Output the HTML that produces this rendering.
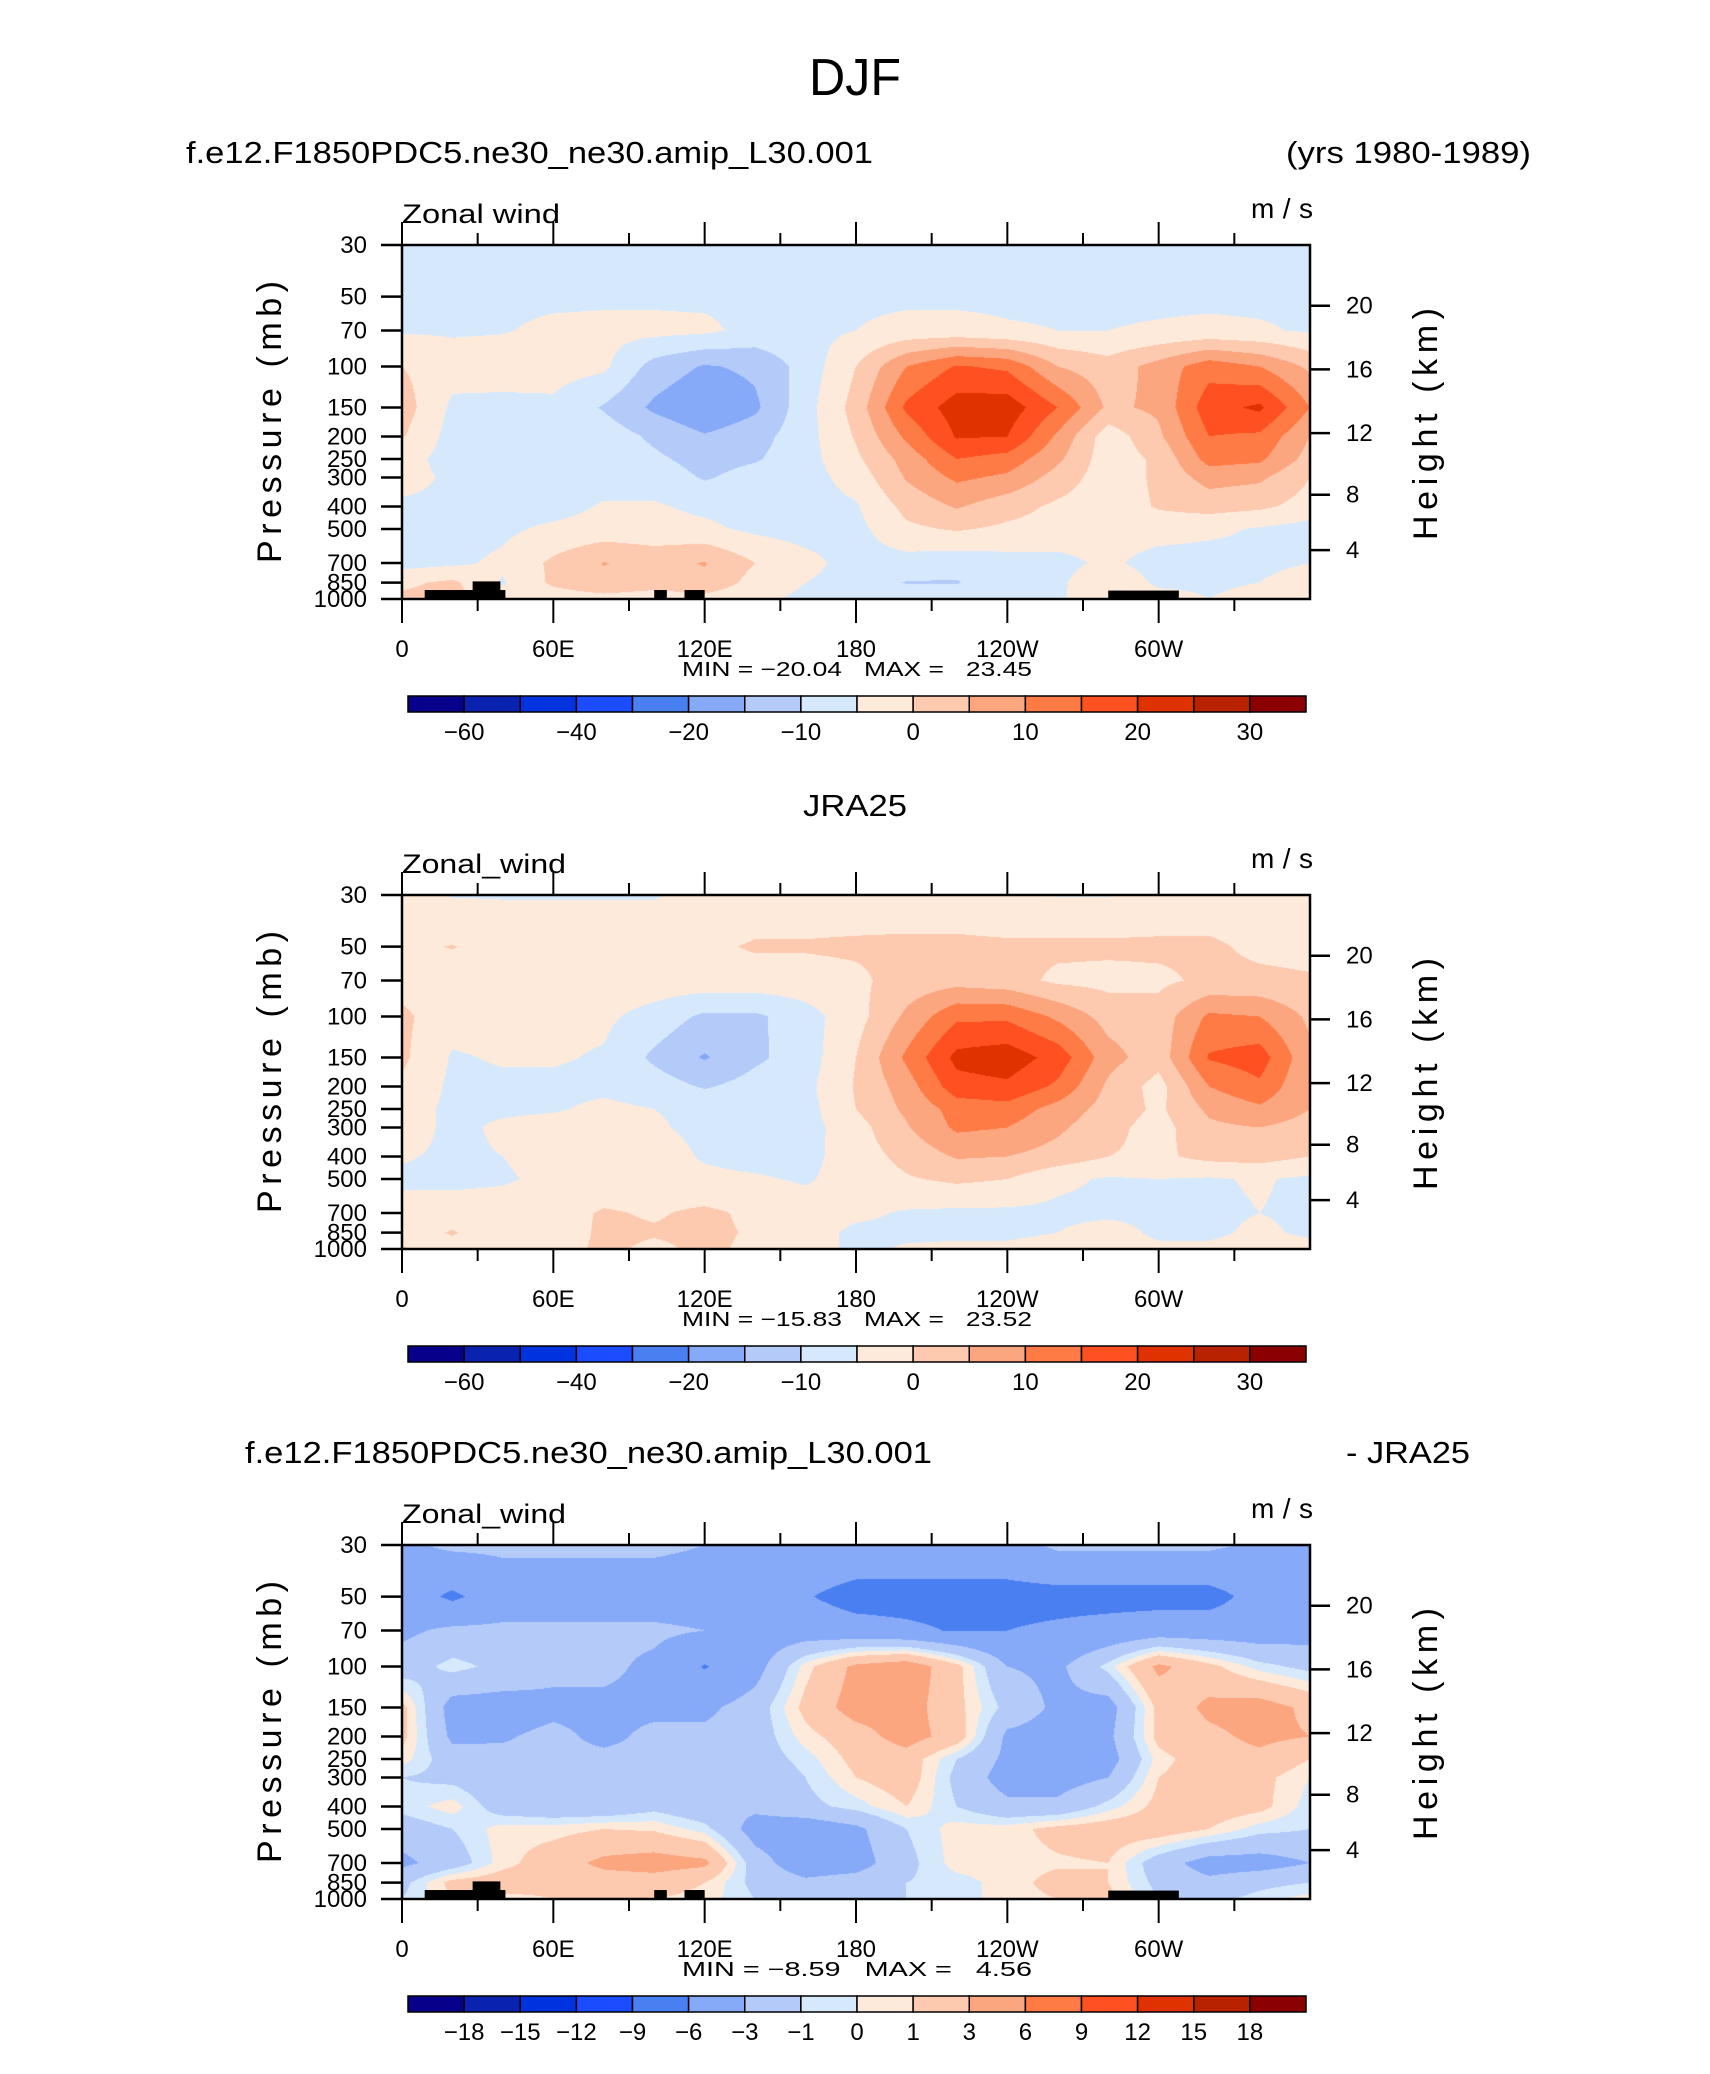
<!DOCTYPE html>
<html><head><meta charset="utf-8">
<style>
html,body{margin:0;padding:0;background:#fff;}
#root{position:relative;width:1710px;height:2074px;overflow:hidden;background:#fff;}
canvas{position:absolute;}
svg{position:absolute;left:0;top:0;}
text{font-family:"Liberation Sans",sans-serif;fill:#000;}
</style></head>
<body>
<div id="root">
<canvas id="c0" width="908" height="354" style="left:402px;top:245px"></canvas>
<canvas id="c1" width="908" height="354" style="left:402px;top:895px"></canvas>
<canvas id="c2" width="908" height="354" style="left:402px;top:1545px"></canvas>
<svg id="ov" width="1710" height="2074">
<text x="855" y="95" font-size="52" text-anchor="middle" textLength="92" lengthAdjust="spacingAndGlyphs">DJF</text>
</svg>
</div>
<script>
// ---------- data ----------
const lons = [0,20,40,60,80,100,120,140,160,180,200,220,240,260,280,300,320,340,360];
const plev = [30,50,70,100,150,200,250,300,400,500,700,850,1000];
const levelsWind = [-60,-50,-40,-30,-20,-15,-10,-5,0,5,10,15,20,25,30];
const levelsDiff = [-18,-15,-12,-9,-6,-3,-1,0,1,3,6,9,12,15,18];
const levelLabelsWind = ["-60","","-40","","-20","","-10","","0","","10","","20","","30"];
const levelLabelsDiff = ["-18","-15","-12","-9","-6","-3","-1","0","1","3","6","9","12","15","18"];
const colors = ["#07008a","#0a22b0","#0033e0","#1b4dff","#4a7ff2","#86aaf8","#b4cbfa","#d6e9fc","#feeadb","#fdcab0","#fca680","#fe7b45","#fe5020","#e03200","#b82200","#8b0000"];
const xTickLons = [0,60,120,180,240,300];
const xTickLabels = ["0","60E","120E","180","120W","60W"];
const pTicks = [30,50,70,100,150,200,250,300,400,500,700,850,1000];
const kmTicks = [4,8,12,16,20];

const u1 = [
[-7,-7,-7,-7,-7,-7,-7,-7,-7,-7,-7,-7,-7,-7,-7,-7,-7,-7,-7],
[-6,-6,-6,-6,-6,-6,-6,-6,-6,-6,-6,-6,-6,-6,-6,-6,-6,-6,-6],
[-5.5,-5.5,-5.3,-4,-3.5,-3.5,-4,-6.5,-6.5,-5,-3.5,-3.5,-4.5,-5,-5,-4.5,-4,-4.5,-5.5],
[0,-3,-2.5,-3,-4,-12,-15.5,-14,-8,0,10,15.5,14,5,2,7,13,10,4],
[2.5,-6,-6.5,-6,-10.5,-16,-19.5,-16,-7,2,16,22.5,23,15,4,6,18,21,10],
[0.5,-7,-7,-7,-7,-11,-14.5,-12,-7,0.5,11,20.5,20,9,-3,4,15,14,5],
[-3,-7,-7,-7,-7,-9,-12,-10.5,-7,-1,7,15,13,6,-3,1,12,11,3],
[-3,-6,-7,-7,-7,-7,-10.5,-8,-7,-3,5.5,11,9,3,-3,1,7,6,0],
[-6,-6,-7,-7,-4.5,-4.5,-6,-7,-7,-5.5,1.5,5.5,2,-1,-3,0.5,2,1,-2],
[-7,-7,-6,-4,-3,-3.5,-4,-6,-7,-6.5,-1,0.5,-1,-2,-3,-3,-4,-5.5,-7],
[-7,-6,-4,1,5.2,3.5,5.3,0,-3.5,-7,-7,-8,-7,-6.5,-4,-7,-7,-6,-5],
[-1,1,-5.5,1,4,2.5,4,-2,-5,-7,-10.3,-10.3,-7,-6,-1,-6,-6,-5,-3],
[1,2,-3,-3,-2,-3,-2,-4,-6,-7,-7,-7,-7,-6,0,-3,-5,-3,-2]
];
const u2 = [
[-3,-5.3,-5.3,-5.3,-5.3,-5.3,-4,-3,-3,-3,-3,-3,-4,-5.2,-5.2,-4,-3,-3,-3],
[-1,0.2,-2,-2,-2,-2,-1,0.5,0.5,0.8,1,1,0.8,1,1,1,0.8,-1,-1.5],
[-2,-2,-2,-2,-2,-2,-2,-2,-2,-1,2,3,2,-1,-1.5,-1,1,1,0.5],
[1,-3,-3,-3.5,-4,-7,-11,-11,-7,-2,6,14,14,9,3,2,11,10,4],
[1,-5.5,-4.5,-4.5,-5.5,-11,-15.5,-11,-7.5,0,11,21.5,23,18,7,2,15.5,17.5,6],
[-1,-6,-6,-6,-6,-7.5,-10.5,-8,-6.5,0.5,7.5,18,19,14,4,-2,10,14,5],
[-3,-6,-6,-5.5,-4,-5,-6,-6.5,-7,0,6,12,13,8,3,-1,6,9,5],
[-2,-6.5,-4,-3,-3,-4.5,-6,-6.5,-7,-2,4.5,11,10,6,1.5,-2,4,5,3],
[-4.5,-6,-5,-3.5,-3,-3,-5.5,-6.5,-6.5,-2.5,1.5,5.5,5,3,0,-1,1.5,2,0],
[-6,-6,-5.5,-4,-3,-3,-4,-4.5,-5.5,-3,-0.5,1,0,-4,-5.5,-5,-5.5,-4.5,-6],
[-3,-3,-3,-2,0.5,-0.5,1,-1,-3,-4,-5.5,-6,-6,-6,-6,-6,-6,-5,-6],
[-3,0.5,-4,-3,1,0.5,1,-0.5,-3,-6,-6,-6,-6,-5,-3,-6,-6,-4,-6],
[0.5,-2,-4,-2,1,-1,1,-1,-3,-6,-4.5,-4,-4,-3,-2,-4,-4,-3,-3]
];
const u3 = [
[-3.5,-2.5,-2.5,-2.5,-2.5,-2.5,-3,-4,-4,-4,-4,-4,-4,-2.5,-2.5,-2.5,-2.5,-3.5,-4],
[-4.5,-6.5,-4.5,-4.5,-4.5,-4.5,-4.5,-4.5,-5.8,-7,-7,-7,-7,-7,-7,-7,-7,-5,-4.5],
[-3.5,-2.5,-2.5,-2.5,-2.5,-2.5,-3,-4.5,-4.5,-5,-5.5,-6.2,-6,-5.5,-5,-4.5,-4.5,-4.5,-4],
[-2,-0.5,-1.5,-2.5,-2.5,-3.5,-6.2,-4,0.5,3.5,4.5,1.5,-3,-3.5,-0.5,3.5,1.5,-0.5,-1.5],
[1.5,-4,-4,-3.5,-3.5,-3.5,-3.5,-2,1.5,4,4,1.5,-1.5,-3.5,-4,1.5,3.5,4,2.5],
[1.5,-3.5,-3.2,-2.5,-3.5,-2.5,-2.5,-2,0.5,2,4,2,-3.5,-4,-3.5,1.5,2.5,3.5,3],
[0.5,-2,-2.5,-2.5,-2.5,-2.5,-2.5,-2,-0.5,1.5,2,-1,-3.5,-4.5,-4,0.5,2,2.5,1],
[-1,-1.5,-2.5,-2.5,-2.5,-2.5,-2.5,-2.5,-1,1,2,-1.5,-4,-4,-3,1,2,1.5,0],
[-0.5,0.5,-2,-2.5,-2.5,-1.5,-2.5,-2.5,-1.5,-0.5,1,-1,-2.5,-2.5,-0.5,1.5,2,1.5,-0.5],
[-2,-1,0.5,0.5,1,0.8,-0.5,-4,-4.5,-3.5,-1,0.5,0.5,1.5,2,2,1,-0.5,-1],
[-3.5,-2,0.5,2,3.5,4,3.5,-2,-4.5,-4,-1.5,0.5,0.5,0.8,1,-2,-4,-4,-3],
[-1.5,1.5,2,1.5,2,2,1,-1.5,-2.5,-2,-1,-0.5,0.5,1.5,1,-1.5,-2.5,-1.5,-1],
[-1,1,0.5,1,1.5,1,0.5,-1,-1.5,-1.5,-1,-0.5,0.5,1,1.5,-1,-1.5,-0.5,0.5]
];
const terrainStart = [9,28,100,112,280];
const terrainEnd = [41,39,105,120,308];
const terrainTop = [915,840,915,915,920];

// ---------- layout ----------
const L = 402, W = 908, H = 354;
const tops = [245, 895, 1545];
const lnTop = Math.log(30), lnBot = Math.log(1000);
function xOf(lon){ return L + lon/360*W; }
function yOfP(top,p){ return top + (Math.log(p)-lnTop)/(lnBot-lnTop)*H; }
function pOfKm(z){ const m=z*1000; return m<=11000 ? 1013.25*Math.pow(1-2.25577e-5*m,5.25588) : 226.32*Math.exp(-(m-11000)/6341.6); }

function drawField(cid, data, levels){
  const cv = document.getElementById(cid), ctx = cv.getContext('2d');
  const img = ctx.createImageData(W,H);
  const lnp = plev.map(Math.log);
  const rgb = colors.map(c=>[parseInt(c.substr(1,2),16),parseInt(c.substr(3,2),16),parseInt(c.substr(5,2),16)]);
  const n = lons.length-1;
  for(let py=0; py<H; py++){
    const lp = lnTop + (py+0.5)/H*(lnBot-lnTop);
    let k=0; while(k<plev.length-2 && lp>lnp[k+1]) k++;
    const t = Math.min(1,Math.max(0,(lp-lnp[k])/(lnp[k+1]-lnp[k])));
    for(let px=0; px<W; px++){
      const lonv = (px+0.5)/W*360;
      let i=0; while(i<n-1 && lonv>lons[i+1]) i++;
      const s = (lonv-lons[i])/(lons[i+1]-lons[i]);
      const v = (1-t)*((1-s)*data[k][i]+s*data[k][i+1]) + t*((1-s)*data[k+1][i]+s*data[k+1][i+1]);
      let ci=0; while(ci<levels.length && v>=levels[ci]) ci++;
      const o=(py*W+px)*4, c=rgb[ci];
      img.data[o]=c[0]; img.data[o+1]=c[1]; img.data[o+2]=c[2]; img.data[o+3]=255;
    }
  }
  ctx.putImageData(img,0,0);
}
drawField('c0',u1,levelsWind);
drawField('c1',u2,levelsWind);
drawField('c2',u3,levelsDiff);

// ---------- overlay ----------
const ov = document.getElementById('ov');
const NS = 'http://www.w3.org/2000/svg';
function mk(tag, attrs, txt){
  const e = document.createElementNS(NS, tag);
  for(const k in attrs) e.setAttribute(k, attrs[k]);
  if(txt!==undefined) e.textContent = txt;
  ov.appendChild(e); return e;
}
function line(x1,y1,x2,y2,w){ return mk('line',{x1:x1,y1:y1,x2:x2,y2:y2,stroke:'#000','stroke-width':w||2}); }

const panelMin = ["\u221220.04","\u221215.83","\u22128.59"];
const panelMax = ["23.45","23.52","4.56"];
const panelUnitsName = ["Zonal wind","Zonal_wind","Zonal_wind"];

tops.forEach((T,pi)=>{
  if(pi!==1){
    terrainStart.forEach((a,j)=>{
      const r = mk('rect',{x:xOf(a),y:yOfP(T,terrainTop[j]),width:xOf(terrainEnd[j])-xOf(a),height:T+H-yOfP(T,terrainTop[j]),fill:'#000'});
      
      
    });
  }
  const fr = mk('rect',{x:L,y:T,width:W,height:H,fill:'none',stroke:'#000','stroke-width':2.5});
  
  
  for(let lon=0; lon<360; lon+=30){
    const major = lon%60===0, x=xOf(lon);
    line(x,T+H,x,T+H+(major?24:12),2);
    line(x,T,x,T-(major?23:12),2);
  }
  xTickLons.forEach((lon,j)=>{
    const t = mk('text',{x:xOf(lon),y:T+H+58,'font-size':24,'text-anchor':'middle'},xTickLabels[j]);
    
    
  });
  pTicks.forEach(p=>{
    const y=yOfP(T,p);
    line(L-21,y,L,y,2.5);
    const t = mk('text',{x:367,y:y+8,'font-size':24,'text-anchor':'end'},String(p));
    
    
  });
  kmTicks.forEach(z=>{
    const y=yOfP(T,pOfKm(z));
    line(L+W,y,L+W+20,y,2.5);
    const t = mk('text',{x:1346,y:y+8,'font-size':24},String(z));
    
    
  });
  const ya = mk('text',{x:0,y:0,'font-size':34,'text-anchor':'middle',transform:'translate(281,'+(T+177)+') rotate(-90)',textLength:282,lengthAdjust:'spacing'},'Pressure (mb)');
  
  
  const yb = mk('text',{x:0,y:0,'font-size':34,'text-anchor':'middle',transform:'translate(1437,'+(T+179)+') rotate(-90)',textLength:232,lengthAdjust:'spacing'},'Height (km)');
  
  
  const lt = mk('text',{x:402,y:T-22,'font-size':27,textLength:(pi===0?158:164),lengthAdjust:'spacingAndGlyphs'},panelUnitsName[pi]);
  
  
  const ut = mk('text',{x:1313,y:T-27,'font-size':28,'text-anchor':'end',textLength:62,lengthAdjust:'spacing'},'m/s');
  
  
  const mm = mk('text',{x:682,y:T+H+77,'font-size':20,textLength:350,lengthAdjust:'spacingAndGlyphs',style:'white-space:pre'},'MIN = '+panelMin[pi]+'   MAX =   '+panelMax[pi]);
  
  
  const cbx=408, cbw=898, cby=T+451, cbh=16, bw=cbw/16;
  colors.forEach((c,j)=>{
    const r = mk('rect',{x:cbx+j*bw,y:cby,width:bw,height:cbh,fill:c,stroke:'#000','stroke-width':1.5});
    
    
  });
  const labs = pi===2 ? levelLabelsDiff : levelLabelsWind;
  labs.forEach((s,j)=>{
    if(!s) return;
    const t = mk('text',{x:cbx+(j+1)*bw,y:cby+44,'font-size':24,'text-anchor':'middle'},s.replace('-','\u2212'));
    
    
  });
});

const s1 = mk('text',{x:186,y:163,'font-size':31,textLength:687,lengthAdjust:'spacingAndGlyphs'},'f.e12.F1850PDC5.ne30_ne30.amip_L30.001');


const s2 = mk('text',{x:1531,y:163,'font-size':31,'text-anchor':'end',textLength:245,lengthAdjust:'spacingAndGlyphs'},'(yrs 1980-1989)');


const s3 = mk('text',{x:855,y:816,'font-size':31,'text-anchor':'middle',textLength:104,lengthAdjust:'spacingAndGlyphs'},'JRA25');


const s4 = mk('text',{x:245,y:1463,'font-size':31,textLength:687,lengthAdjust:'spacingAndGlyphs'},'f.e12.F1850PDC5.ne30_ne30.amip_L30.001');


const s5 = mk('text',{x:1470,y:1463,'font-size':31,'text-anchor':'end',textLength:124,lengthAdjust:'spacingAndGlyphs'},'- JRA25');


</script>
</body></html>
